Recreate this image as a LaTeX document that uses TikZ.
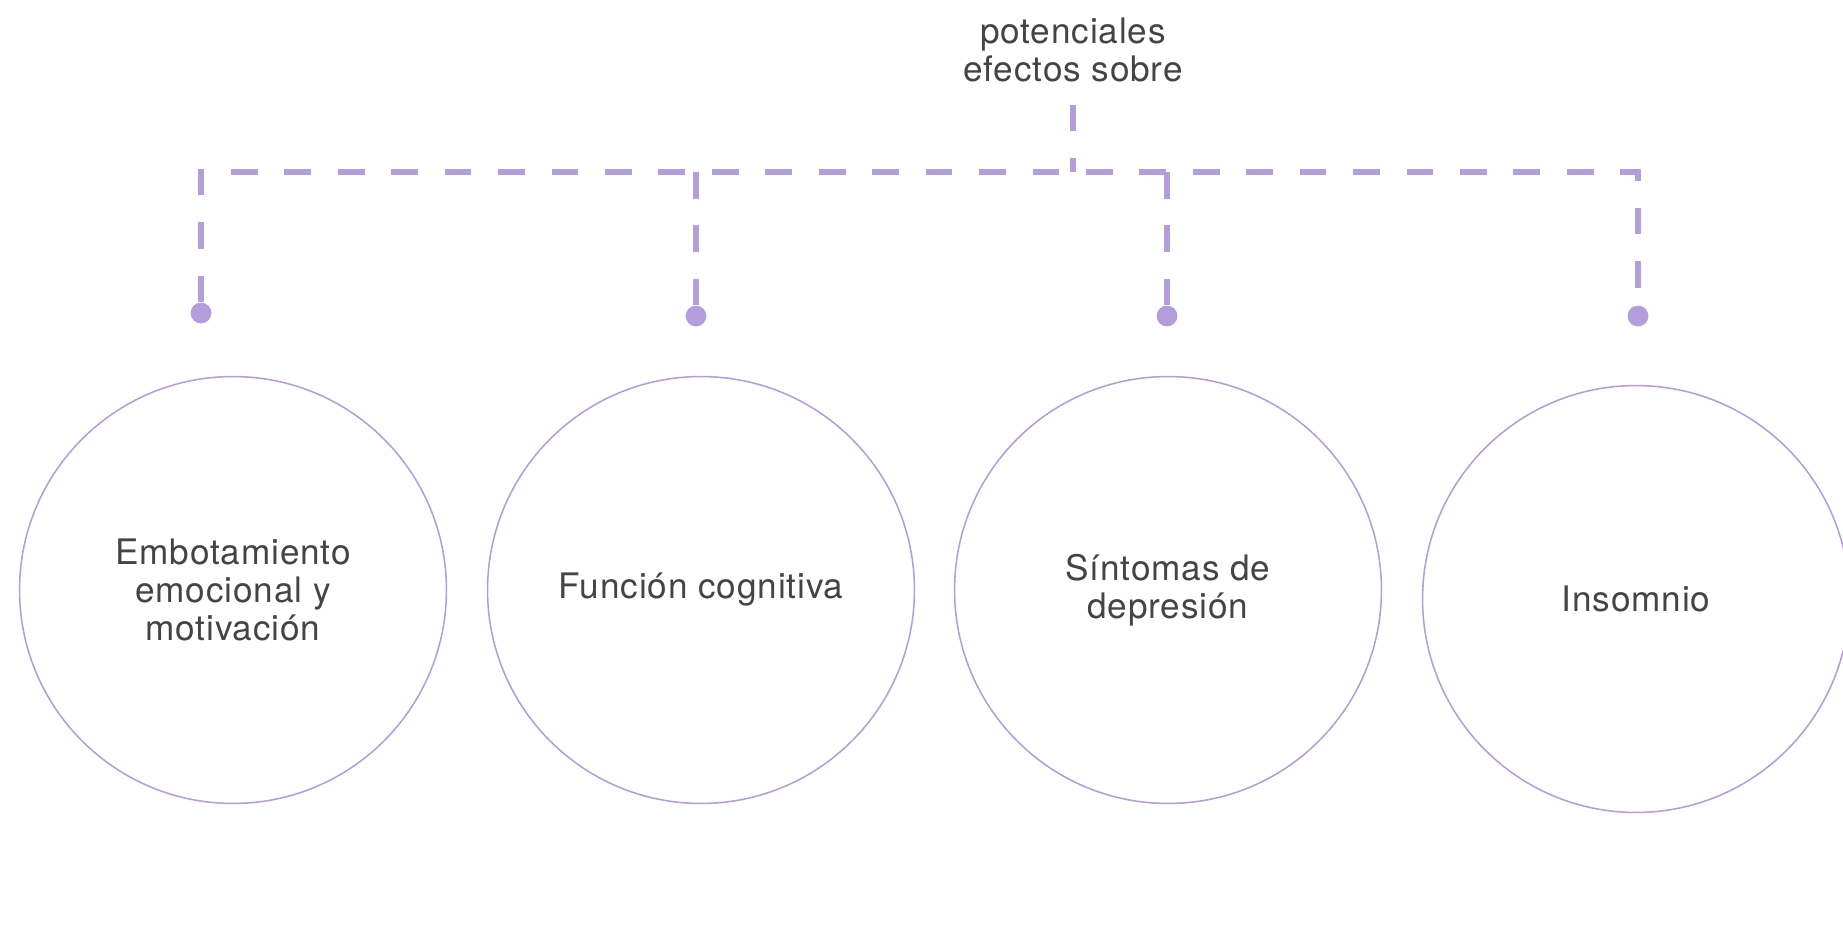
\documentclass[tikz,border=0pt]{standalone}
\usepackage{fontspec}
\setmainfont{TeX Gyre Heros}[LetterSpace=2.5]
\usetikzlibrary{positioning}
\definecolor{lila}{RGB}{179,157,219}
\definecolor{texto}{RGB}{68,68,68}

\begin{document}
\begin{tikzpicture}[x=0.025cm,y=-0.025cm]
\tikzstyle{every node}+=[inner sep=0pt]
\tikzset{
  efecto/.style={circle, draw=lila, line width=1.1pt, minimum size=10.67cm,
    align=center, text=texto, font=\fontsize{25}{27}\selectfont},
  titulo/.style={align=center, text=texto, font=\fontsize{25}{27.5}\selectfont},
  punto/.style={circle, fill=lila, minimum size=0.52cm},
  guia/.style={draw=lila, line width=3.6pt, dash pattern=on 19pt off 19pt}
}
\useasboundingbox (0,0) rectangle (1843,934);
% circulos
\node[efecto] (emb) at (233,590) {Embotamiento\\emocional y\\motivación};
\node[efecto] (cog) at (701,590) {Función cognitiva};
\node[efecto] (dep) at (1168,590) {Síntomas de\\depresión};
\node[efecto] (ins) at (1636,599) {Insomnio};
% titulo
\node[titulo] (tit) at (1073,50) {potenciales\\efectos sobre};
% puntos
\node[punto] (p1) at (201,313) {};
\node[punto] (p2) at (696,316) {};
\node[punto] (p3) at (1167,316) {};
\node[punto] (p4) at (1638,316) {};
\coordinate (barra) at (1073,172);
% lineas
\draw[guia] (tit.south) ++(0,22) -- (barra);
\draw[guia] (p1.north) -- (p1 |- barra) -- (p4 |- barra) -- (p4.north);
\draw[guia] (p2 |- barra) -- (p2.north);
\draw[guia] (p3 |- barra) -- (p3.north);
\end{tikzpicture}
\end{document}
